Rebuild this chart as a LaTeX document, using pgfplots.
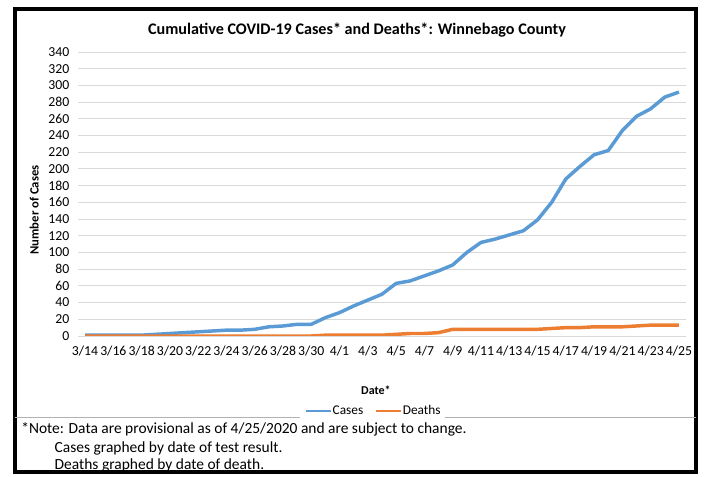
\documentclass[border=0pt]{standalone}
\usepackage{pgfplots}
\pgfplotsset{compat=1.18}
\usepackage{fontspec}
\setmainfont{Carlito}
\definecolor{xlblue}{HTML}{5B9BD5}
\definecolor{xlorange}{HTML}{ED7D31}
\definecolor{gridgray}{HTML}{D9D9D9}

% days since 3/14, cumulative counts
\begin{document}
\begin{tikzpicture}
% whole canvas: 707x474 px at 0.75pt per px
\path (0,0) rectangle (530.25pt,355.5pt);
\draw[line width=2.4pt] (11.25pt,1.5pt) rectangle (522pt,348.75pt);
\draw[gray!60, line width=0.6pt] (11.25pt,42.75pt) -- (522pt,42.75pt);

\node[font=\fontsize{12.1}{14}\selectfont\bfseries] at (267.75pt,333pt)
  {Cumulative COVID-19 Cases* and Deaths*: Winnebago County};

\begin{axis}[
    at={(58.5pt,103.5pt)}, anchor=south west,
    scale only axis,
    width=456pt, height=213pt,
    xmin=-0.5, xmax=42.5,
    ymin=0, ymax=340,
    ytick={0,20,...,340},
    xtick={0,2,...,42},
    xticklabels={3/14,3/16,3/18,3/20,3/22,3/24,3/26,3/28,3/30,4/1,4/3,4/5,4/7,4/9,4/11,4/13,4/15,4/17,4/19,4/21,4/23,4/25},
    ymajorgrids=true,
    grid style={gridgray, line width=0.7pt},
    axis line style={draw=none},
    major tick length=0pt,
    tick label style={font=\fontsize{10.3}{11}\selectfont},
    /pgf/number format/assume math mode=true,
    xticklabel style={yshift=-4pt},
    yticklabel style={xshift=-3pt},
    xlabel={Date*},
    ylabel={Number of Cases},
    xlabel style={font=\fontsize{9}{10}\selectfont\bfseries,
        at={(axis description cs:0.49,-0.19)}, anchor=center},
    ylabel style={font=\fontsize{9.5}{10}\selectfont\bfseries,
        at={(axis description cs:-0.072,0.444)}, anchor=center, rotate=0},
    legend columns=2,
    legend style={draw=none, at={(axis description cs:0.485,-0.264)}, anchor=center,
        font=\fontsize{10}{11}\selectfont, nodes={inner sep=0.5pt},
        /tikz/every even column/.append style={column sep=8pt}},
    legend image code/.code={\draw[#1, line width=2.2pt] (0pt,0pt) -- (18.5pt,0pt);},
]
\addplot[xlblue, line width=2.6pt, line join=round] coordinates {
(0,1)(1,1)(2,1)(3,1)(4,1)(5,2)(6,3)(7,4)(8,5)(9,6)(10,7)(11,7)(12,8)
(13,11)(14,12)(15,14)(16,14)(17,22)(18,28)(19,36)(20,43)(21,50)(22,63)
(23,66)(24,72)(25,78)(26,85)(27,100)(28,112)(29,116)(30,121)(31,126)
(32,139)(33,160)(34,188)(35,203)(36,217)(37,222)(38,246)(39,263)(40,272)
(41,286)(42,292)
};
\addplot[xlorange, line width=2.6pt, line join=round] coordinates {
(0,0)(1,0)(2,0)(3,0)(4,0)(5,0)(6,0)(7,0)(8,0)(9,0)(10,0)(11,0)(12,0)
(13,0)(14,0)(15,0)(16,0)(17,1)(18,1)(19,1)(20,1)(21,1)(22,2)(23,3)
(24,3)(25,4)(26,8)(27,8)(28,8)(29,8)(30,8)(31,8)(32,8)(33,9)(34,10)
(35,10)(36,11)(37,11)(38,11)(39,12)(40,13)(41,13)(42,13)
};
\legend{Cases,Deaths}
\end{axis}

\node[anchor=west, font=\fontsize{11.6}{13}\selectfont] at (12.5pt,33.75pt)
  {*Note: Data are provisional as of 4/25/2020 and are subject to change.};
\node[anchor=west, font=\fontsize{11.6}{13}\selectfont] at (37.5pt,19.5pt)
  {Cases graphed by date of test result.};
\node[anchor=west, font=\fontsize{11.6}{13}\selectfont] at (37.5pt,6.5pt)
  {Deaths graphed by date of death.};
\end{tikzpicture}
\end{document}
